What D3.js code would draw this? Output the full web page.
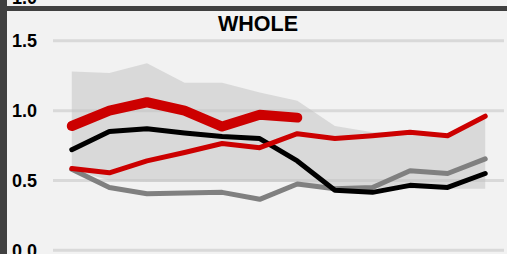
<!DOCTYPE html>
<html>
<head>
<meta charset="utf-8">
<script src="https://cdn.jsdelivr.net/npm/d3@7"></script>
<style>
  html, body { margin: 0; padding: 0; background: #f2f2f2; overflow: hidden; }
  svg { display: block; font-family: "Liberation Sans", Arial, sans-serif; }
</style>
</head>
<body>
<script>
const width = 507;
const height = 254;

// 12 periods, no axis labels shown on the panel
const periods = ["1", "2", "3", "4", "5", "6", "7", "8", "9", "10", "11", "12"];
const yTicks = [0, 0.5, 1.0, 1.5];

// shaded range
const bandHigh = [1.28, 1.27, 1.34, 1.20, 1.20, 1.13, 1.07, 0.89, 0.845, 0.85, 0.83, 0.96];
const bandLow  = [0.58, 0.50, 0.49, 0.49, 0.49, 0.49, 0.49, 0.45, 0.44, 0.44, 0.44, 0.44];

const grayVals  = [0.58, 0.45, 0.405, 0.41, 0.415, 0.365, 0.475, 0.44, 0.45, 0.57, 0.55, 0.655];
const blackVals = [0.72, 0.85, 0.87, 0.84, 0.815, 0.80, 0.64, 0.43, 0.415, 0.465, 0.45, 0.55];
const redVals   = [0.585, 0.555, 0.64, 0.70, 0.765, 0.735, 0.835, 0.80, 0.82, 0.845, 0.82, 0.96];
const boldVals  = [0.89, 1.0, 1.06, 1.0, 0.886, 0.97, 0.95];

const svg = d3.select("body")
              .append("svg")
              .attr("width", width)
              .attr("height", height);

let x = d3.scalePoint()
          .domain(periods)
          .range([53, 504])
          .padding(0.5);

let y = d3.scaleLinear()
          .domain([0, 1.5])
          .range([250.3, 40.8]);

// frame bits
svg.append("rect").attr("x", 0).attr("y", 0).attr("width", 7).attr("height", height).attr("fill", "#404040");
svg.append("rect").attr("x", 0).attr("y", 6).attr("width", width).attr("height", 5).attr("fill", "#404040");

// label of the panel above, cut off
svg.append("text")
   .attr("x", 37).attr("y", 3.5)
   .attr("text-anchor", "end")
   .attr("font-size", 18).attr("font-weight", "bold")
   .text("1.0");

// gridlines
svg.append("g")
   .selectAll("line")
   .data(yTicks)
   .enter()
   .append("line")
   .attr("x1", 53).attr("x2", 504)
   .attr("y1", d => y(d)).attr("y2", d => y(d))
   .attr("stroke", "#d9d9d9")
   .attr("stroke-width", 3);

// y labels
svg.append("g")
   .selectAll("text")
   .data(yTicks)
   .enter()
   .append("text")
   .attr("x", 37)
   .attr("y", d => y(d))
   .attr("dy", "0.36em")
   .attr("text-anchor", "end")
   .attr("font-size", 18)
   .attr("font-weight", "bold")
   .text(d => d.toFixed(1));

// title
svg.append("text")
   .attr("x", 258).attr("y", 30.7)
   .attr("text-anchor", "middle")
   .attr("font-size", 21.5)
   .attr("font-weight", "bold")
   .text("WHOLE");

// band
const area = d3.area()
               .x((d, i) => x(periods[i]))
               .y0((d, i) => y(bandLow[i]))
               .y1(d => y(d));
svg.append("path")
   .datum(bandHigh)
   .attr("d", area)
   .attr("fill", "#c2c2c2")
   .attr("fill-opacity", 0.52);

const line = d3.line().x((d, i) => x(periods[i])).y(d => y(d));

const series = [
  { vals: grayVals, color: "#808080", w: 5 },
  { vals: blackVals, color: "#000000", w: 5 },
  { vals: redVals, color: "#cc0000", w: 5 },
  { vals: boldVals, color: "#cc0000", w: 10 }
];

series.forEach(s => {
  svg.append("path")
     .datum(s.vals)
     .attr("d", line)
     .attr("fill", "none")
     .attr("stroke", s.color)
     .attr("stroke-width", s.w)
     .attr("stroke-linejoin", "round")
     .attr("stroke-linecap", "round");
});
</script>
</body>
</html>
